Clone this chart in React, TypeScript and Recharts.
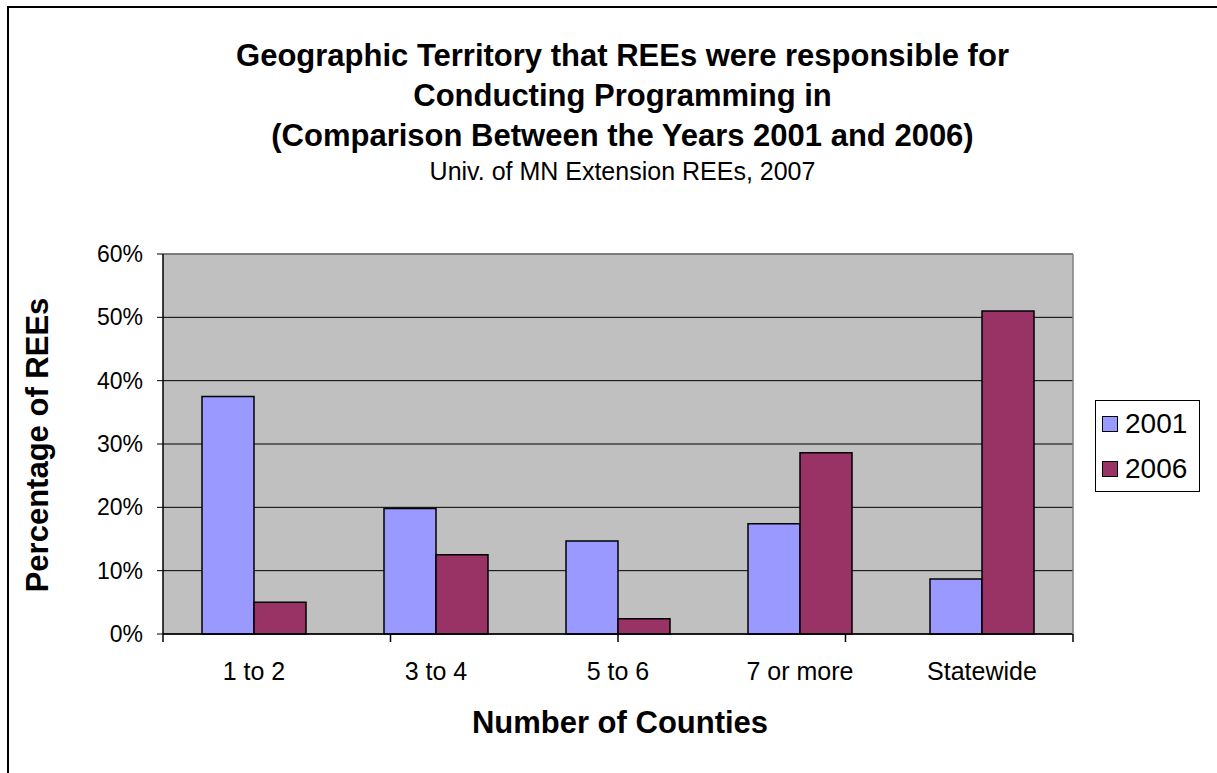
import { Bar, BarChart, CartesianGrid, XAxis, YAxis } from "recharts";

const CATEGORIES = ["1 to 2", "3 to 4", "5 to 6", "7 or more", "Statewide"];
const VALUES_2001 = [37.5, 19.8, 14.7, 17.4, 8.7];
const VALUES_2006 = [5.0, 12.5, 2.4, 28.6, 51.0];
const Y_TICKS = [0, 10, 20, 30, 40, 50, 60];
const EDGE_TICKS = [0, 1, 2, 3, 4, 5];

const SERIES = [
  { key: "y2001", name: "2001", color: "#9999ff" },
  { key: "y2006", name: "2006", color: "#993366" },
];

const FONT = '"Liberation Sans", Arial, sans-serif';

const rows = CATEGORIES.map((c, i) => ({ cat: c, y2001: VALUES_2001[i], y2006: VALUES_2006[i] }));

const NoLabel = () => <g />;

function LegendBox() {
  return (
    <div
      style={{
        position: "absolute",
        left: 1095,
        top: 400,
        border: "1px solid #000",
        background: "#fff",
        padding: "0 12px 0 6px",
        fontFamily: FONT,
        fontSize: 28,
        lineHeight: "45px",
      }}
    >
      {SERIES.map((s) => (
        <div key={s.key} style={{ display: "flex", alignItems: "center", gap: 7 }}>
          <span style={{ width: 14, height: 14, background: s.color, border: "1.5px solid #000", display: "inline-block" }} />
          <span>{s.name}</span>
        </div>
      ))}
    </div>
  );
}

export default function App() {
  return (
    <div style={{ position: "absolute", left: 0, top: 0, width: 1217, height: 773, overflow: "hidden", background: "#fff", fontFamily: FONT }}>
      <div style={{ position: "absolute", left: 7, top: 6, width: 1300, height: 900, border: "2px solid #000" }} />
      <div style={{ position: "absolute", left: 0, width: 1245, top: 36, textAlign: "center", fontWeight: "bold", fontSize: 31, lineHeight: "40px" }}>
        <div>Geographic Territory that REEs were responsible for</div>
        <div>Conducting Programming in</div>
        <div>(Comparison Between the Years 2001 and 2006)</div>
      </div>
      <div style={{ position: "absolute", left: 0, width: 1245, top: 157, textAlign: "center", fontSize: 25 }}>
        Univ. of MN Extension REEs, 2007
      </div>
      <div
        style={{
          position: "absolute",
          left: 38,
          top: 445,
          transform: "translate(-50%, -50%) rotate(-90deg)",
          whiteSpace: "nowrap",
          fontWeight: "bold",
          fontSize: 31,
        }}
      >
        Percentage of REEs
      </div>
      <div style={{ position: "absolute", left: 0, width: 1240, top: 705, textAlign: "center", fontWeight: "bold", fontSize: 31 }}>
        Number of Counties
      </div>
      <div style={{ position: "absolute", left: 0, top: 0 }}>
        <BarChart
          width={1217}
          height={773}
          data={rows}
          margin={{ top: 253, right: 143, bottom: 98, left: 93 }}
          barCategoryGap={39}
          barGap={0}
        >
          <CartesianGrid fill="#c0c0c0" vertical={false} stroke="#000" strokeWidth={1} yAxisId="left" />
          <XAxis
            xAxisId="a_edges"
            type="number"
            domain={[0, 5]}
            ticks={EDGE_TICKS}
            interval={0}
            tick={NoLabel}
            tickSize={8}
            height={1}
            axisLine={{ stroke: "#000", strokeWidth: 1.5 }}
            tickLine={{ stroke: "#000", strokeWidth: 1.5 }}
            allowDataOverflow
          />
          <XAxis
            dataKey="cat"
            xAxisId="b_cat"
            height={40}
            interval={0}
            tickLine={false}
            tickSize={6}
            tickMargin={21}
            axisLine={false}
            tick={{ fill: "#000", fontSize: 25, fontFamily: FONT }}
          />
          <XAxis xAxisId="top" orientation="top" dataKey="cat" height={1} tick={false} tickLine={false} axisLine={{ stroke: "#808080", strokeWidth: 1.5 }} />
          <YAxis
            yAxisId="left"
            domain={[0, 60]}
            ticks={Y_TICKS}
            width={70}
            tickSize={6}
            tickMargin={14}
            tickFormatter={(v: number) => `${v}%`}
            axisLine={{ stroke: "#000", strokeWidth: 1.5 }}
            tickLine={{ stroke: "#000" }}
            tick={{ fill: "#000", fontSize: 23, fontFamily: FONT }}
          />
          <YAxis yAxisId="right" orientation="right" width={1} tick={false} tickLine={false} axisLine={{ stroke: "#808080", strokeWidth: 1.5 }} />
          {SERIES.map((s) => (
            <Bar
              key={s.key}
              dataKey={s.key}
              name={s.name}
              xAxisId="b_cat"
              yAxisId="left"
              fill={s.color}
              stroke="#000"
              strokeWidth={1.5}
              isAnimationActive={false}
            />
          ))}
        </BarChart>
      </div>
      <LegendBox />
    </div>
  );
}
